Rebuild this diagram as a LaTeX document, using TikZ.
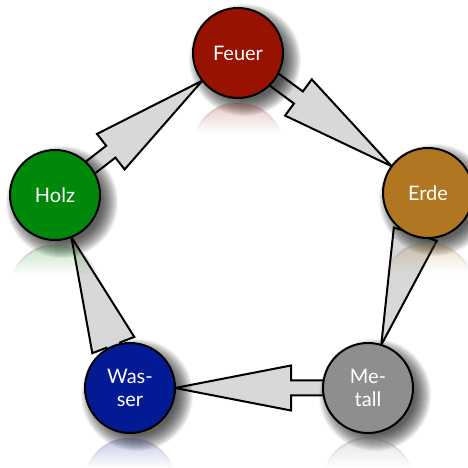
\documentclass[tikz,border=0pt]{standalone}
\usepackage{fontspec}
\setmainfont{Lato}
\usetikzlibrary{calc,fadings}

\definecolor{feuerred}{RGB}{152,18,2}
\definecolor{holzgreen}{RGB}{0,136,10}
\definecolor{erdeochre}{RGB}{176,118,34}
\definecolor{wasserblue}{RGB}{2,26,148}
\definecolor{metallgray}{RGB}{142,142,142}
\definecolor{arrowgray}{RGB}{216,216,216}

% reflection fading
\pgfdeclareverticalshading{reflectshade}{100bp}{color(0bp)=(pgftransparent!100); color(58bp)=(pgftransparent!100); color(100bp)=(pgftransparent!40)}
\pgfdeclarefading{reflectfade}{\pgfuseshading{reflectshade}}

\pgfdeclarelayer{background}
\pgfdeclarelayer{shadow}
\pgfsetlayers{background,shadow,main}

\tikzset{
  element/.style={circle, draw=black, line width=2pt, minimum size=90pt, inner sep=0pt,
    text=white, align=center, font=\fontsize{20}{23}\selectfont, fill=#1},
  bigarrow/.style={draw=black, line width=2pt, fill=arrowgray, line join=miter},
  shadowring/.style={fill=black, opacity=0.055},
}

% wide arrow from one element to the next
\newcommand{\shengarrow}[2]{%
  \coordinate (tip) at ($(#2)!45pt!(#1)$);
  \coordinate (base) at ($(tip)!116pt!(#1)$);
  \filldraw[bigarrow] ($(#1)!7.5pt!90:(#2)$) -- ($(base)!7.5pt!90:(#2)$)
    -- ($(base)!22.5pt!90:(#2)$) -- (tip) -- ($(base)!22.5pt!-90:(#2)$)
    -- ($(base)!7.5pt!-90:(#2)$) -- ($(#1)!7.5pt!-90:(#2)$) -- cycle;
}

% shadow and mirror image below an element
\newcommand{\elementdecor}[2]{%
  \foreach \r in {40,...,56}
    \fill[shadowring] ($(#1)+(7,-7)$) circle (\r);
  \path[fill=#2, draw=black!60, line width=2pt, path fading=reflectfade] ($(#1)+(0,-95)$) circle (45);
}

\begin{document}
\begin{tikzpicture}[x=1pt,y=1pt]
  \useasboundingbox (0,0) rectangle (467,468);

  \node[element=feuerred] (feuer) at (238,415) {Feuer};
  \node[element=erdeochre] (erde) at (428,275) {Erde};
  \node[element=metallgray] (metall) at (368,80) {Me-\\tall};
  \node[element=wasserblue] (wasser) at (130,80) {Was-\\ser};
  \node[element=holzgreen] (holz) at (55,273) {Holz};

  \begin{pgfonlayer}{background}
    \shengarrow{holz}{feuer}
    \shengarrow{feuer}{erde}
    \shengarrow{erde}{metall}
    \shengarrow{metall}{wasser}
    \shengarrow{wasser}{holz}
  \end{pgfonlayer}

  \begin{pgfonlayer}{shadow}
    \elementdecor{feuer}{feuerred}
    \elementdecor{erde}{erdeochre}
    \elementdecor{metall}{metallgray}
    \elementdecor{wasser}{wasserblue}
    \elementdecor{holz}{holzgreen}
  \end{pgfonlayer}
\end{tikzpicture}
\end{document}
